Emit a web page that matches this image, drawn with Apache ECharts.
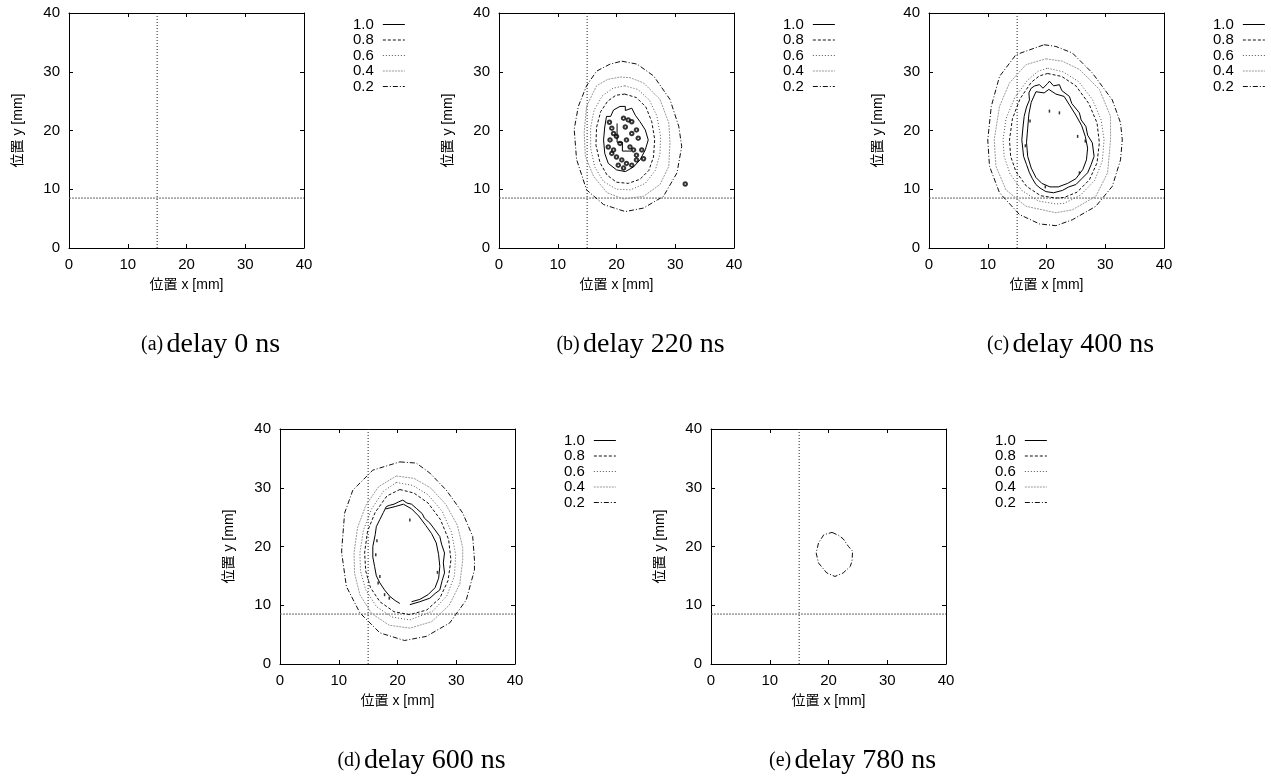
<!DOCTYPE html>
<html><head><meta charset="utf-8">
<script src="https://cdn.jsdelivr.net/npm/echarts@6/dist/echarts.min.js"></script>
<style>html,body{margin:0;padding:0;background:#fff}#c{width:1271px;height:776px}</style>
</head><body><div id="c"></div><script>
// ---------- data ----------
const levels = ['1.0', '0.8', '0.6', '0.4', '0.2'];
const axisMin = 0, axisMax = 40, axisStep = 10;
const crossX = 15;     // vertical reference line x [mm]
const crossY = 8.5;    // horizontal reference line y [mm]
const panelTags = ['(a)', '(b)', '(c)', '(d)', '(e)'];
const panelDelays = ['delay 0 ns', 'delay 220 ns', 'delay 400 ns', 'delay 600 ns', 'delay 780 ns'];

// panel (b) 220 ns
const b02 = [[20.9,31.8],[23.5,31.3],[26.3,29.3],[29.1,25.3],[30.6,20.7],[31.1,17.3],[30.3,12.8],[28.0,8.8],[24.6,6.8],[21.5,6.2],[17.8,7.4],[14.9,9.9],[13.2,15.1],[12.8,20.2],[13.5,24.1],[14.9,27.6],[16.6,30.1],[18.9,31.3],[20.9,31.8]];
const b04 = [[20.6,29.1],[22.3,29.0],[24.6,28.1],[27.4,25.3],[28.9,21.3],[29.1,17.9],[28.9,13.9],[27.4,10.8],[24.6,8.8],[21.2,8.35],[18.4,9.4],[16.1,12.2],[14.7,15.6],[14.5,19.6],[14.9,24.1],[16.6,27.6],[18.5,28.7],[20.6,29.1]];
const b06 = [[21.4,27.6],[23.6,27.0],[25.6,25.2],[26.9,22.4],[27.5,19.0],[27.4,16.0],[26.6,13.2],[24.9,11.0],[22.4,9.9],[20.0,10.0],[17.8,11.3],[16.3,13.8],[15.6,17.0],[15.6,20.5],[16.2,23.5],[17.6,25.9],[19.4,27.2],[21.4,27.6]];
const b08 = [[21.4,26.2],[23.4,25.6],[25.0,24.0],[26.0,21.5],[26.5,18.5],[26.3,15.5],[25.5,13.2],[24.0,11.7],[22.0,11.0],[20.0,11.2],[18.4,12.4],[17.2,14.5],[16.5,17.5],[16.6,20.5],[17.3,23.2],[18.5,25.0],[19.9,26.0],[21.4,26.2]];
const b10 = [[20.6,24.1],[21.5,24.1],[21.5,23.4],[22.6,23.8],[23.2,22.6],[24.0,21.5],[24.9,20.1],[25.4,18.4],[24.9,16.7],[24.0,15.0],[22.9,13.8],[21.5,13.0],[20.0,13.3],[18.6,14.4],[18.0,16.1],[17.8,18.4],[18.0,20.6],[18.3,22.4],[19.0,22.4],[19.5,23.5],[20.6,24.1]];
const b10in = [[20.1,21.2],[20.1,18.0],[21.0,18.0],[21.0,16.5],[22.5,16.5]];
const bSpecks = [[21.2,22.1],[22.0,21.8],[22.6,21.5],[21.5,20.6],[19.5,19.5],[18.9,18.4],[18.6,17.2],[19.2,16.1],[20.0,15.5],[20.9,15.0],[21.7,14.4],[22.6,14.1],[23.4,15.0],[22.9,16.7],[22.3,17.2],[21.7,18.4],[22.6,19.5],[23.4,20.1],[23.7,18.7],[24.3,16.7],[23.4,15.8],[20.3,14.1],[21.2,13.6],[19.5,16.7],[20.6,17.8],[20.0,19.0],[18.8,21.4],[19.2,20.4],[24.6,15.2],[31.7,10.9]];

// panel (c) 400 ns
const c02 = [[19.6,34.6],[21.6,34.3],[24.4,33.2],[27.8,29.8],[31.2,25.2],[32.6,21.3],[32.9,18.4],[32.6,15.0],[31.2,10.5],[28.4,7.1],[24.4,4.8],[21.6,3.8],[18.8,4.1],[15.4,5.7],[12.0,9.4],[10.3,13.9],[10.0,18.4],[10.6,24.1],[12.0,29.2],[14.8,32.9],[19.6,34.6]];
const c04 = [[19.9,32.2],[22.7,31.8],[25.6,30.4],[29.0,27.0],[30.9,22.4],[30.9,18.4],[30.4,12.8],[28.4,8.8],[24.4,6.5],[21.6,6.0],[16.5,7.1],[13.1,9.9],[11.4,13.9],[11.1,18.4],[12.0,24.1],[13.7,28.1],[16.5,31.2],[19.9,32.2]];
const c06 = [[20.2,30.6],[22.8,30.0],[25.5,28.3],[27.8,25.3],[29.3,21.8],[29.8,18.4],[29.5,14.8],[28.2,11.5],[25.8,9.0],[23.0,7.6],[21.6,7.5],[18.6,8.0],[15.8,9.8],[13.8,12.6],[12.8,15.6],[12.6,18.4],[13.1,22.0],[14.6,25.6],[16.8,28.6],[18.6,30.1],[20.2,30.6]];
const c08 = [[20.2,29.7],[22.6,29.2],[25.0,27.6],[27.2,24.6],[28.6,21.3],[29.0,17.9],[28.6,14.5],[27.3,11.6],[25.2,9.5],[23.0,8.6],[21.6,8.5],[19.0,8.9],[16.6,10.5],[14.8,13.0],[13.9,15.6],[13.7,18.4],[14.2,22.0],[15.5,25.4],[17.4,28.2],[18.8,29.3],[20.2,29.7]];
const c10 = [[17.4,27.2],[18.0,27.6],[18.8,27.8],[19.4,27.2],[20.2,28.0],[20.5,28.4],[21.2,27.6],[22.2,27.8],[22.6,26.8],[23.9,25.8],[24.3,24.6],[25.6,23.0],[25.9,21.8],[26.7,20.7],[27.0,19.2],[27.8,17.9],[28.1,15.6],[27.6,14.2],[27.0,12.8],[26.0,11.8],[25.0,10.8],[23.8,10.4],[22.7,9.8],[21.2,9.4],[19.9,9.6],[18.9,10.2],[18.2,10.8],[17.6,11.8],[17.1,12.8],[16.6,14.2],[16.1,15.6],[15.8,18.4],[16.0,20.6],[16.2,22.4],[16.6,24.0],[17.1,25.2],[17.0,26.4],[17.4,27.2]];
const c10in = [[18.2,26.6],[19.6,26.4],[20.4,27.0],[21.6,26.2],[23.0,25.8],[24.0,24.2],[25.0,22.6],[26.0,20.8],[26.6,19.0],[27.0,17.0],[26.8,15.0],[26.2,13.4],[25.0,11.8],[23.6,11.0],[22.0,10.4],[20.6,10.4],[19.2,11.0],[18.2,12.0],[17.4,13.6],[16.8,15.6],[16.6,18.0],[16.8,20.4],[17.0,22.8],[17.4,24.8],[18.2,26.6]];
const cSpecks = [[20.5,23.3],[22.2,23.0],[25.3,19.0],[25.6,12.8],[26.6,18.2],[17.2,21.6],[16.4,17.4],[19.8,10.4]];

// panel (d) 600 ns
const d02 = [[20.4,34.4],[23.2,34.2],[25.5,32.5],[28.3,29.6],[31.1,25.7],[32.8,21.7],[33.1,17.7],[33.1,16.0],[31.7,10.9],[28.9,7.0],[24.9,4.7],[21.2,4.0],[17.0,5.3],[13.6,8.7],[11.3,13.2],[10.5,18.9],[10.5,19.4],[11.0,25.7],[12.4,29.6],[15.8,33.0],[20.4,34.4]];
const d04 = [[19.8,32.0],[22.8,31.6],[25.6,30.0],[28.2,27.2],[30.2,23.6],[31.1,19.8],[31.1,17.7],[30.6,13.6],[28.8,10.0],[25.8,7.2],[22.1,6.1],[18.6,6.6],[15.6,8.6],[13.6,11.8],[12.7,15.4],[12.6,18.9],[13.2,23.2],[14.6,27.0],[16.8,30.2],[19.8,32.0]];
const d06 = [[19.8,30.9],[22.6,30.4],[25.2,28.8],[27.6,26.0],[29.2,22.4],[29.9,18.6],[29.7,15.0],[28.4,11.6],[26.0,9.0],[22.1,7.5],[19.0,8.0],[16.4,9.8],[14.6,12.6],[13.7,15.8],[13.6,18.9],[14.2,22.8],[15.6,26.4],[17.6,29.4],[19.8,30.9]];
const d08 = [[20.4,29.7],[22.8,29.1],[25.2,27.4],[27.3,24.6],[28.7,21.2],[29.1,17.7],[28.6,14.2],[27.2,11.2],[25.0,9.2],[22.1,8.4],[19.4,8.9],[17.0,10.6],[15.4,13.0],[14.6,15.8],[14.4,18.9],[14.9,22.6],[16.2,25.8],[18.2,28.6],[20.4,29.7]];
const d10 = [[22.1,10.1],[23.8,10.6],[25.5,11.2],[26.4,12.0],[27.2,12.6],[27.6,14.2],[28.0,15.5],[27.8,17.2],[28.0,18.9],[27.5,20.4],[27.2,21.7],[26.4,22.8],[25.5,24.0],[24.6,24.8],[24.2,25.6],[23.2,26.5],[22.4,27.2],[21.6,27.4],[20.9,27.9],[20.2,27.6],[19.4,27.2],[18.6,27.0],[18.1,26.8],[17.6,25.8],[17.3,25.7],[17.0,24.6],[16.4,23.4],[16.2,22.0],[15.8,20.0],[15.8,18.2],[16.1,16.6],[16.4,15.0],[17.0,13.8],[17.8,12.6],[18.7,11.5],[19.6,10.8],[20.4,10.3]];
const d10in = [[18.0,26.4],[19.6,26.8],[21.0,27.2],[22.4,26.4],[23.6,25.2],[24.8,23.6],[25.8,22.2],[26.6,20.6],[27.0,18.6],[27.2,16.6],[27.0,14.6],[26.4,13.0],[25.2,11.8],[23.8,11.0],[22.4,10.6]];
const dSpecks = [[22.1,24.5],[17.0,14.9],[16.7,13.8],[17.8,11.8],[18.6,11.2],[26.8,15.6],[16.3,18.6],[16.5,21.0]];

// panel (e) 780 ns
const e02 = [[20.6,22.4],[21.7,21.9],[22.5,21.3],[23.4,20.0],[24.1,19.2],[24.0,17.5],[23.7,16.6],[22.5,15.5],[21.1,14.9],[19.7,15.5],[18.3,17.2],[17.9,18.9],[18.3,20.6],[19.2,22.0],[20.6,22.4]];

const panelContours = [
  [],
  [['1.0', b10], ['1.0', b10in], ['0.8', b08], ['0.6', b06], ['0.4', b04], ['0.2', b02]],
  [['1.0', c10], ['1.0', c10in], ['0.8', c08], ['0.6', c06], ['0.4', c04], ['0.2', c02]],
  [['1.0', d10], ['1.0', d10in], ['0.8', d08], ['0.6', d06], ['0.4', d04], ['0.2', d02]],
  [['0.2', e02]]
];
const panelSpecks = [[], bSpecks, cSpecks, dSpecks, []];

// ---------- layout / style ----------
const FONT = '"Liberation Sans", "Noto Sans CJK JP", sans-serif';
const SERIF = '"Liberation Serif", "DejaVu Serif", serif';
const grids = [
  {left: 69, top: 13}, {left: 499, top: 13}, {left: 929, top: 13},
  {left: 280, top: 429}, {left: 711, top: 429}
];
const PW = 235, PH = 235;
const levelStyle = {
  '1.0': {color: '#000', type: 'solid', width: 1},
  '0.8': {color: '#111', type: [3, 2], width: 1},
  '0.6': {color: '#555', type: [1, 2], width: 1},
  '0.4': {color: '#999', type: [2, 1], width: 1},
  '0.2': {color: '#111', type: [5, 2, 1, 2], width: 1}
};

const chart = echarts.init(document.getElementById('c'), null, {renderer: 'canvas'});
const xAxes = [], yAxes = [], series = [], legends = [], graphics = [];

function axisBase(gi, pos, main) {
  return {
    gridIndex: gi, type: 'value', position: pos,
    min: axisMin, max: axisMax, interval: axisStep,
    axisLine: {show: true, onZero: false, lineStyle: {color: '#000', width: 1}},
    axisTick: {show: true, inside: true, length: 4, lineStyle: {color: '#000', width: 1}},
    axisLabel: {show: main, margin: 9, fontSize: 15, color: '#000', fontFamily: FONT},
    splitLine: {show: false}
  };
}

grids.forEach((g, i) => {
  const bx = axisBase(i, 'bottom', true);
  bx.name = '位置 x [mm]'; bx.nameLocation = 'middle'; bx.nameGap = 30;
  bx.nameTextStyle = {fontSize: 14, color: '#000', fontFamily: FONT};
  xAxes.push(bx, axisBase(i, 'top', false));
  const ly = axisBase(i, 'left', true);
  ly.name = '位置 y [mm]'; ly.nameLocation = 'middle'; ly.nameGap = 44;
  ly.nameTextStyle = {fontSize: 14, color: '#000', fontFamily: FONT};
  yAxes.push(ly, axisBase(i, 'right', false));

  const xi = 2 * i, yi = 2 * i;
  series.push({
    type: 'line', xAxisIndex: xi, yAxisIndex: yi, silent: true, symbol: 'none',
    data: [[crossX, axisMin], [crossX, axisMax]],
    lineStyle: {color: '#222', width: 1, type: [1, 2]}
  });
  series.push({
    type: 'line', xAxisIndex: xi, yAxisIndex: yi, silent: true, symbol: 'none',
    data: [[axisMin, crossY], [axisMax, crossY]],
    lineStyle: {color: '#666', width: 1, type: [2, 1]}
  });
  panelContours[i].forEach(([lv, pts]) => {
    series.push({
      name: lv, type: 'line', xAxisIndex: xi, yAxisIndex: yi, symbol: 'none',
      silent: true, data: pts, color: levelStyle[lv].color,
      lineStyle: Object.assign({}, levelStyle[lv])
    });
  });
  if (panelSpecks[i].length) {
    const ring = i === 1;
    series.push({
      type: 'scatter', xAxisIndex: xi, yAxisIndex: yi, silent: true,
      symbol: ring ? 'emptyCircle' : 'rect',
      symbolSize: ring ? 3.5 : [1.5, 3], data: panelSpecks[i],
      itemStyle: {color: '#000', borderColor: '#000', borderWidth: ring ? 1 : 0}
    });
  }
  legends.push({
    data: levels, orient: 'vertical', align: 'right',
    left: g.left + 284, top: g.top + 4, padding: 0,
    itemWidth: 22, itemHeight: 13, itemGap: 0.5,
    selectedMode: false,
    itemStyle: {opacity: 0, borderWidth: 0},
    lineStyle: {width: 1},
    textStyle: {fontSize: 15, color: '#000', fontFamily: FONT, padding: [0, 4, 0, 0], lineHeight: 13}
  });
  graphics.push({
    type: 'text',
    x: g.left + PW / 2 + 24, y: g.top + PH + 97,
    style: {
      text: '{t|' + panelTags[i] + '} {m|' + panelDelays[i] + '}',
      align: 'center', verticalAlign: 'middle',
      rich: {
        t: {fontSize: 20, fontFamily: SERIF, fill: '#000'},
        m: {fontSize: 28, fontFamily: SERIF, fill: '#000'}
      }
    }
  });
});

chart.setOption({
  animation: false,
  backgroundColor: '#fff',
  grid: grids.map(g => ({left: g.left, top: g.top, width: PW, height: PH, containLabel: false})),
  xAxis: xAxes,
  yAxis: yAxes,
  legend: legends,
  series: series,
  graphic: graphics
});
</script></body></html>
